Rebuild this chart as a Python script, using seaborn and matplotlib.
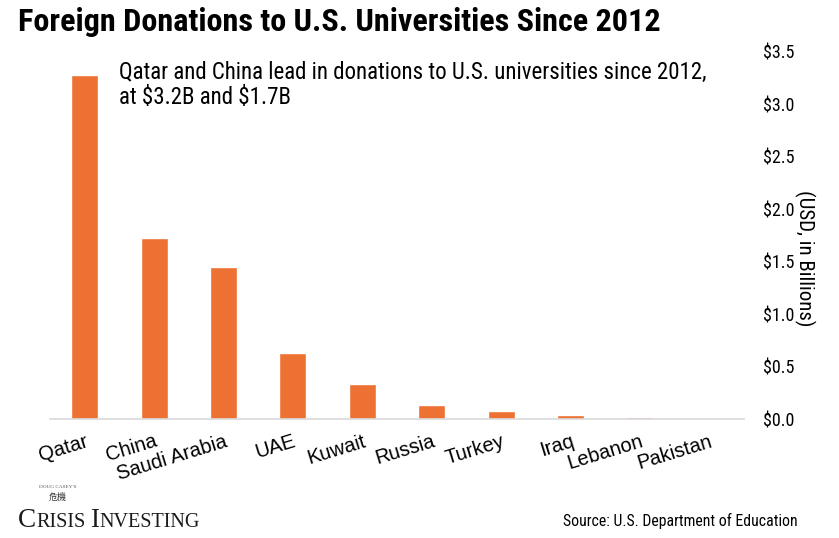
import matplotlib
matplotlib.use("Agg")
import matplotlib.pyplot as plt
import seaborn as sns
import pandas as pd
from matplotlib import font_manager
from matplotlib.ticker import FuncFormatter

# Data (USD billions)
countries = ['Qatar', 'China', 'Saudi Arabia', 'UAE', 'Kuwait',
             'Russia', 'Turkey', 'Iraq', 'Lebanon', 'Pakistan']
donations = [3.28, 1.73, 1.45, 0.635, 0.335, 0.137, 0.08, 0.042, 0.02, 0.006]
y_ticks = [0.0, 0.5, 1.0, 1.5, 2.0, 2.5, 3.0, 3.5]

df = pd.DataFrame({'Country': countries, 'Donations': donations})

sns.set_theme(style='white')
plt.rcParams['text.color'] = 'black'

# look for a narrow sans face (the original uses Arial Narrow)
fonts = font_manager.fontManager.ttflist
narrow, stretch = None, 'normal'
for want in ['Liberation Sans Narrow', 'Roboto Condensed', 'Open Sans Condensed']:
    if any(f.name == want for f in fonts):
        narrow = want
        break
if narrow is None:
    for fam in ['DejaVu Sans', 'Open Sans', 'Roboto', 'Noto Sans']:
        if any(f.name == fam and 'condensed' in str(f.stretch) for f in fonts):
            narrow, stretch = fam, 'condensed'
            break
found = narrow is not None
if not found:
    narrow = 'Liberation Sans'
scale = 1.0 if found else 0.84
plt.rcParams['font.family'] = [narrow, 'DejaVu Sans']
plt.rcParams['font.stretch'] = stretch

orange = '#ED7132'
fig = plt.figure(figsize=(8.39, 5.38), dpi=100)
ax = fig.add_axes([50/839, 1-419.3/538, 694/839, (419.3-52)/538])

sns.barplot(data=df, x='Country', y='Donations', color=orange, width=0.39,
            saturation=1, ax=ax)

ax.set_ylim(0, 3.5)
ax.set_xlim(-0.5, 9.5)
ax.set_yticks(y_ticks)
ax.yaxis.tick_right()
ax.yaxis.set_major_formatter(FuncFormatter(lambda v, p: f'${v:.1f}'))
ax.tick_params(axis='y', length=0, pad=13.5, labelsize=13*scale, labelcolor='black')
ax.tick_params(axis='x', length=0, pad=9, labelcolor='black')
for s in ['top', 'left', 'right']:
    ax.spines[s].set_visible(False)
ax.spines['bottom'].set_color('#D9D9D9')
ax.spines['bottom'].set_linewidth(1.2)
ax.set_xlabel('')

for lab in ax.get_xticklabels():
    lab.set_rotation(17)
    lab.set_ha('right')
    lab.set_va('top')
    lab.set_rotation_mode('anchor')
    lab.set_fontfamily(['Liberation Sans', 'DejaVu Sans'])
    lab.set_fontstretch('normal')
    lab.set_fontsize(14.5)

ax.set_ylabel('(USD, in Billions)', rotation=270, fontsize=15*scale, va='center',
              color='black')
ax.yaxis.set_label_position('right')
ax.yaxis.set_label_coords(1.102, 0.439)

fig.text(18/839, 1-22/538, 'Foreign Donations to U.S. Universities Since 2012',
         fontsize=23.2*scale, fontweight='bold', va='center', ha='left')
fig.text(119/839, 1-85/538,
         'Qatar and China lead in donations to U.S. universities since 2012,\nat \\$3.2B and \\$1.7B',
         fontsize=16.5*scale, va='center', ha='left', linespacing=1.15)
fig.text(798/839, 1-521/538, 'Source: U.S. Department of Education',
         fontsize=11.3*scale, va='center', ha='right')

# logo: small-caps wordmark with a tiny emblem above
serif = ['Liberation Serif', 'DejaVu Serif']
fig.text(58/839, 1-497/538, '危機', fontsize=6.5, family=['Noto Sans CJK TC', 'DejaVu Sans'],
         ha='center', va='center', color='#333333')
fig.text(58/839, 1-487/538, "DOUG CASEY'S", fontsize=3.8, family=serif,
         ha='center', va='center', color='#555555')
fig.canvas.draw()
renderer = fig.canvas.get_renderer()
x = 18.0
for txt, size in [('C', 19.5), ('RISIS', 14.5), (' ', 14.5), ('I', 19.5), ('NVESTING', 14.5)]:
    t = fig.text(x/839, 1-527/538, txt, fontsize=size, family=serif,
                 ha='left', va='baseline', color='#1a1a1a')
    bb = t.get_window_extent(renderer)
    x += bb.width if txt.strip() else 5

fig.savefig('out.png', dpi=100)
